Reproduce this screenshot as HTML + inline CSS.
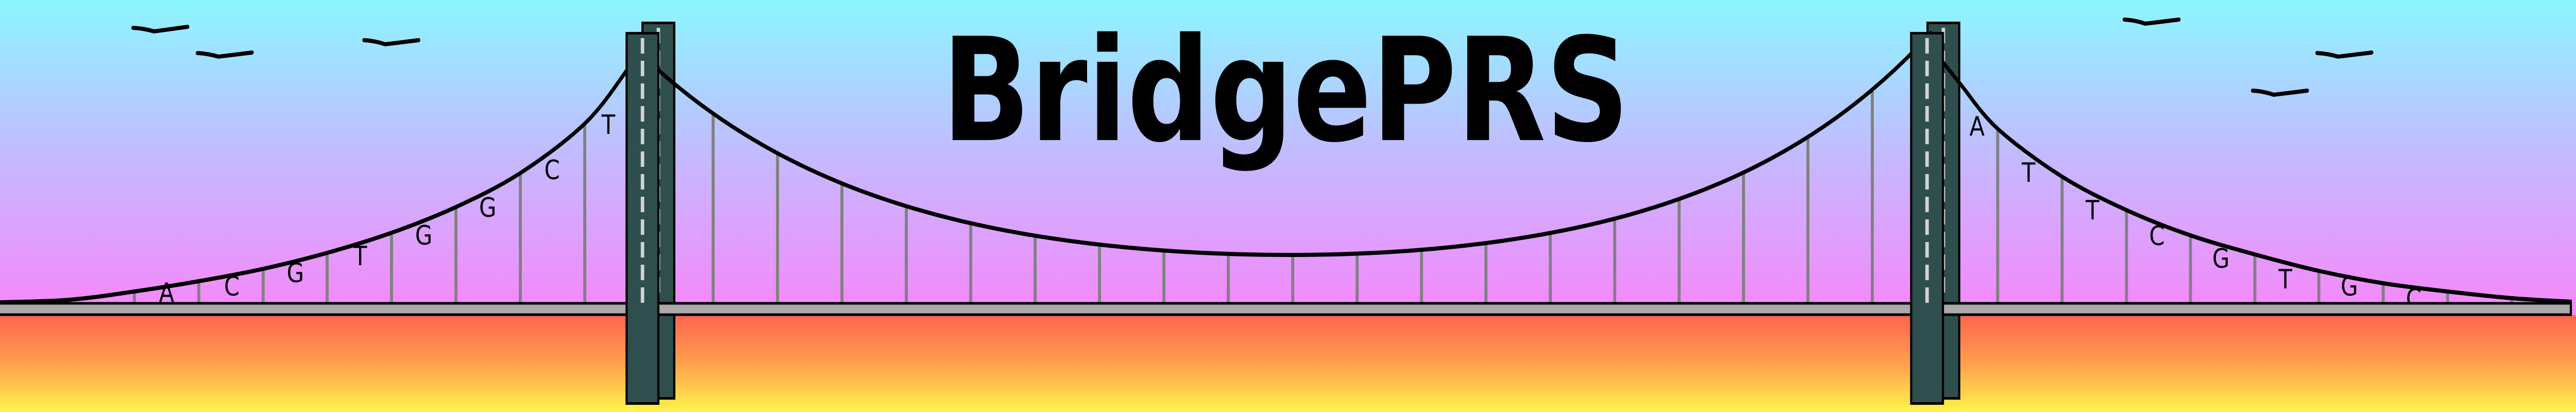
<!DOCTYPE html>
<html><head><meta charset="utf-8"><style>
html,body{margin:0;padding:0;width:100vw;height:100vh;overflow:hidden;background:#fff}
svg{display:block;position:absolute;left:0;top:0;width:100vw;height:100vh}
</style></head><body>
<svg id="art" viewBox="0 0 6000 800" preserveAspectRatio="none" xmlns="http://www.w3.org/2000/svg">
<defs>
<linearGradient id="sky" x1="0" y1="0" x2="0" y2="1">
<stop offset="0" stop-color="#8cf6ff"/><stop offset="0.5" stop-color="#c5b9ff"/><stop offset="1" stop-color="#f786fb"/>
</linearGradient>
<linearGradient id="water" x1="0" y1="0" x2="0" y2="1">
<stop offset="0" stop-color="#ff6450"/><stop offset="0.5" stop-color="#ffa04e"/><stop offset="1" stop-color="#fff44a"/>
</linearGradient>
</defs>
<rect x="0" y="0" width="6000" height="614" fill="url(#sky)"/>
<rect x="0" y="612" width="6000" height="188" fill="url(#water)"/>
<g id="birds" fill="none" stroke="#000" stroke-width="8" stroke-linecap="round"></g>
<text x="2194" y="272" font-family="'DejaVu Sans','Liberation Sans',sans-serif" font-weight="bold" font-size="278" textLength="1601" lengthAdjust="spacingAndGlyphs" fill="#000">BridgePRS</text>
<g id="backTowers"></g>
<g id="hangers"></g>
<g id="cables"></g>
<g id="letters" font-family="'DejaVu Sans','Liberation Sans',sans-serif" font-size="52" fill="#000" text-anchor="middle"></g>
<rect x="-5" y="589" width="5993" height="22" fill="#aaaaaa" stroke="#000" stroke-width="5"/>
<g id="frontTowers"></g>
</svg>
<script>
const NS="http://www.w3.org/2000/svg";
const leftCable=[[0,587],[163,582],[313,566],[463,546],[613,522],[762,491],[912,452],[1062,402],[1212,336],[1362,240],[1457,140],[1500,80]];
const rightCable=[[4520,115],[4566,163],[4653,250],[4803,343],[4953,408],[5102,457],[5252,494],[5401,526],[5551,550],[5701,566],[5850,579],[5990,586]];
const mainBottom=[3007,495];
const hangerX=[163,313,463,613,762,912,1062,1212,1362,1661,1811,1961,2111,2261,2411,2561,2711,2861,3011,3161,3311,3461,3611,3761,3911,4061,4211,4361,4653,4803,4953,5102,5252,5401,5551,5701,5850];
const leftLetters=["A","C","G","T","G","G","C","T"];
const leftLetterPos=[[388,586],[540,574],[688,548],[839,515],[987,475],[1136,421],[1286,348],[1417,260]];
const rightLetters=["A","T","T","C","G","T","G","C"];
const rightLetterPos=[[4605,263],[4725,353],[4874,426],[5024,476],[5173,520],[5323,560],[5472,574],[5622,598]];
const towers=[{front:1457,back:1494},{front:4449,back:4487}];
const birds=[[310,54,359,61,437,52],[460,103,509,110,587,102],[848,78,897,86,975,78],[4948,38,4997,46,5075,38],[5397,103,5446,110,5524,102],[5247,176,5296,184,5374,176]];

function mainY(x){const dx=x-mainBottom[0];const c=dx<0?560:534;return mainBottom[1]-60*(Math.cosh(dx/c)-1);}
const mainCable=[];for(let x=1500;x<=4500;x+=20){mainCable.push([x,mainY(x)]);}

function smooth(p){let d="M"+p[0][0]+","+p[0][1];
 for(let i=0;i<p.length-1;i++){const p0=p[Math.max(0,i-1)],p1=p[i],p2=p[i+1],p3=p[Math.min(p.length-1,i+2)];
  const c1=[p1[0]+(p2[0]-p0[0])/6,p1[1]+(p2[1]-p0[1])/6],c2=[p2[0]-(p3[0]-p1[0])/6,p2[1]-(p3[1]-p1[1])/6];
  d+=" C"+c1[0].toFixed(1)+","+c1[1].toFixed(1)+" "+c2[0].toFixed(1)+","+c2[1].toFixed(1)+" "+p2[0].toFixed(1)+","+p2[1].toFixed(1);}
 return d;}
function yAt(x){for(const c of [leftCable,mainCable,rightCable]){for(let i=0;i<c.length-1;i++){if(x>=c[i][0]&&x<=c[i+1][0]){const t=(x-c[i][0])/(c[i+1][0]-c[i][0]);return c[i][1]+t*(c[i+1][1]-c[i][1]);}}}return 589;}

const bg=document.getElementById('birds');
birds.forEach(b=>{const p=document.createElementNS(NS,'path');
p.setAttribute('d',`M${b[0]},${b[1]} Q${(b[0]+b[2])/2},${b[1]+1} ${b[2]},${b[3]} L${b[4]},${b[5]}`);


bg.appendChild(p);});

const hg=document.getElementById('hangers');
hangerX.forEach(x=>{const l=document.createElementNS(NS,'line');
l.setAttribute('x1',x);l.setAttribute('x2',x);l.setAttribute('y1',yAt(x));l.setAttribute('y2',590);
l.setAttribute('stroke','#808080');l.setAttribute('stroke-width','7');


hg.appendChild(l);});

const cg=document.getElementById('cables');
[leftCable,mainCable,rightCable].forEach((c,i)=>{const p=document.createElementNS(NS,'path');
p.setAttribute('d',smooth(c));p.setAttribute('fill','none');p.setAttribute('stroke','#000');p.setAttribute('stroke-width','8');


cg.appendChild(p);});

const lg=document.getElementById('letters');
function addLetters(arr,pos){arr.forEach((ch,i)=>{const t=document.createElementNS(NS,'text');
t.setAttribute('x',pos[i][0]);t.setAttribute('y',pos[i][1]);t.textContent=ch;


lg.appendChild(t);});}
addLetters(leftLetters,leftLetterPos);addLetters(rightLetters,rightLetterPos);

function tower(g,x,y1,y2,name){const r=document.createElementNS(NS,'rect');
r.setAttribute('x',x+2.5);r.setAttribute('y',y1+2.5);r.setAttribute('width',74);r.setAttribute('height',y2-y1-5);
r.setAttribute('fill','#2f4f4f');r.setAttribute('stroke','#000');r.setAttribute('stroke-width','5');


g.appendChild(r);
const l=document.createElementNS(NS,'line');
l.setAttribute('x1',x+39.5);l.setAttribute('x2',x+39.5);l.setAttribute('y1',y1+12);l.setAttribute('y2',y1+526);
l.setAttribute('stroke','#d3d3d3');l.setAttribute('stroke-width','8');l.setAttribute('stroke-dasharray','30 14');


g.appendChild(l);}
const bt=document.getElementById('backTowers'),ft=document.getElementById('frontTowers');
towers.forEach(t=>{tower(bt,t.back,42,776,'back-tower');tower(ft,t.front,62,786,'front-tower');});
</script>
</body></html>
